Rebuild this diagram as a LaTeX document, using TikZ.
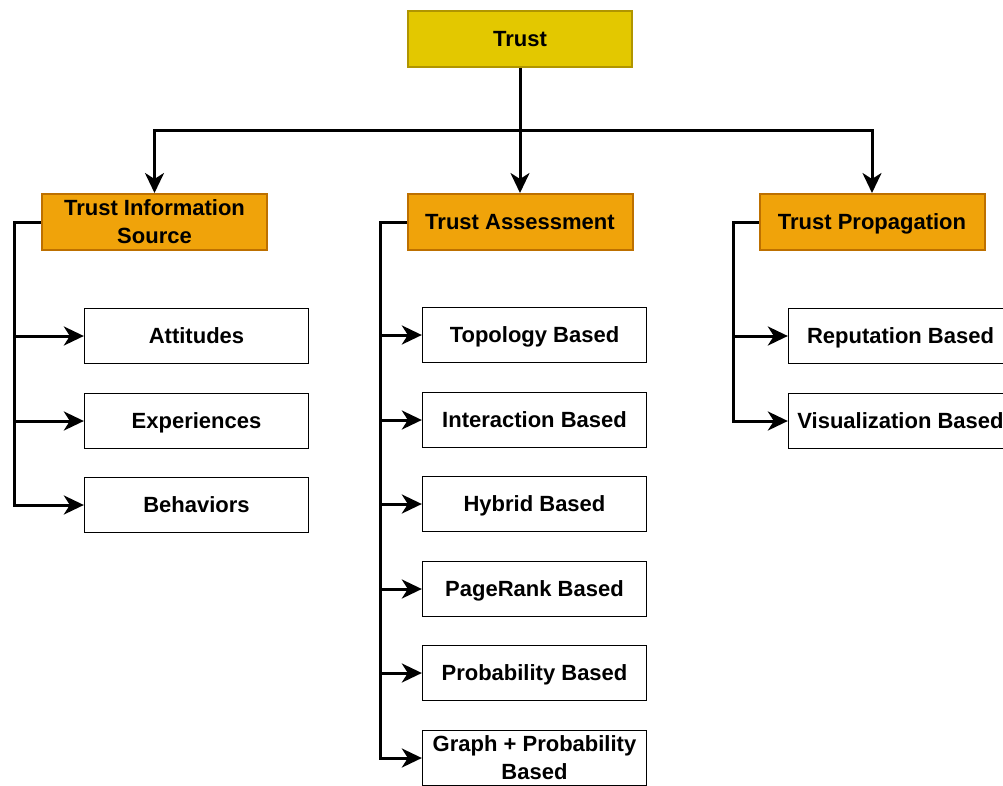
\documentclass[tikz,border=0pt]{standalone}
\usepackage{fontspec}
\setmainfont{Liberation Sans}
\usetikzlibrary{arrows.meta}
\definecolor{rootfill}{HTML}{E3C800}
\definecolor{rootline}{HTML}{B09500}
\definecolor{catfill}{HTML}{F0A30A}
\definecolor{catline}{HTML}{BD7000}
\begin{document}
\begin{tikzpicture}[x=1pt,y=-1pt,
  lbl/.style={font=\fontsize{22}{28}\selectfont\bfseries, align=center, inner sep=0pt},
  oneline/.style={text height=15.8pt, text depth=0pt},
  rootbox/.style={lbl, draw=rootline, fill=rootfill, line width=2pt, minimum width=224pt, minimum height=56pt},
  catbox/.style={lbl, draw=catline, fill=catfill, line width=2pt, minimum width=225pt, minimum height=56pt},
  leafbox/.style={lbl, draw=black, fill=white, line width=1.3pt, minimum width=224pt, minimum height=55pt},
  arr/.style={line width=3pt, -{Stealth[length=20pt,width=19pt,inset=6pt]}}]
\clip (0,0) rectangle (1003,785);
\fill[white] (0,0) rectangle (1003,785);

% root and categories
\node[rootbox,oneline] (trust) at (520,39) {Trust};
\node[catbox] (tis) at (154.5,222) {Trust Information\\Source};
\node[catbox,oneline] (tas) at (520,222) {Trust Assessment};
\node[catbox,oneline] (tpr) at (872,222) {Trust Propagation};

% information sources
\node[leafbox,oneline] (att) at (196.5,336) {Attitudes};
\node[leafbox,oneline] (exp) at (196.5,421) {Experiences};
\node[leafbox,oneline] (beh) at (196.5,505) {Behaviors};

% assessment methods
\node[leafbox,oneline] (top) at (534.5,335) {Topology Based};
\node[leafbox,oneline] (int) at (534.5,420) {Interaction Based};
\node[leafbox,oneline] (hyb) at (534.5,504) {Hybrid Based};
\node[leafbox,oneline] (pgr) at (534.5,589) {PageRank Based};
\node[leafbox,oneline] (prb) at (534.5,673) {Probability Based};
\node[leafbox] (gpb) at (534.5,758) {Graph + Probability\\Based};

% propagation methods
\node[leafbox,oneline] (rep) at (900.5,336) {Reputation Based};
\node[leafbox,oneline] (vis) at (900.5,421) {Visualization Based};

% bus below the root
\coordinate (bus) at (520,130);
\draw[arr] (trust.south) -- (trust.south |- bus) -| (tis.north);
\draw[arr] (trust.south) -- (tas.north);
\draw[arr] (trust.south) -- (trust.south |- bus) -| (tpr.north);

% left spines
\coordinate (ls) at (14,222);
\coordinate (ms) at (380,222);
\coordinate (rs) at (733,222);

\foreach \c in {att,exp,beh}
  \draw[arr] (tis.west) -- (ls) |- (\c.west);
\foreach \c in {top,int,hyb,pgr,prb,gpb}
  \draw[arr] (tas.west) -- (ms) |- (\c.west);
\foreach \c in {rep,vis}
  \draw[arr] (tpr.west) -- (rs) |- (\c.west);
\end{tikzpicture}
\end{document}
